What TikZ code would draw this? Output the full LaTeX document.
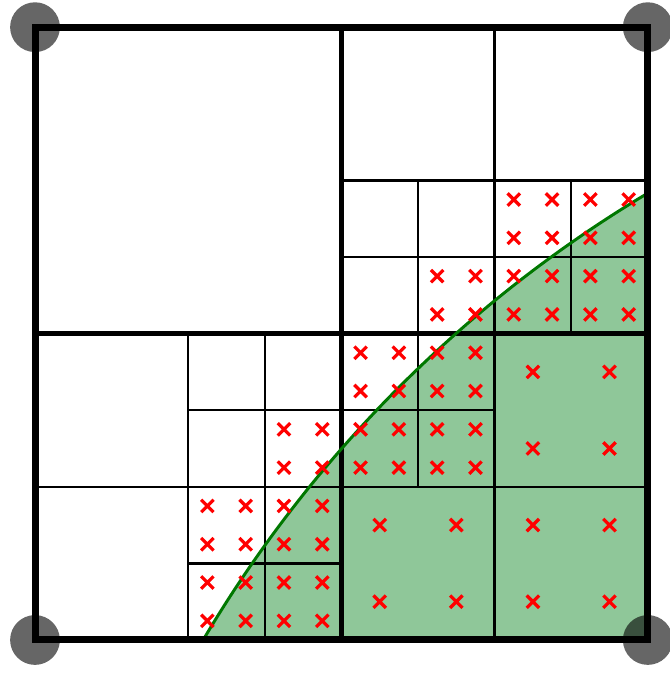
\documentclass[tikz,border=0pt]{standalone}
\usepackage{tikz}
\usetikzlibrary{shapes.misc}
\definecolor{regfill}{RGB}{143,199,153}
\definecolor{bdrygreen}{RGB}{0,120,0}
\tikzset{
  outerbox/.style={line width=2.6pt},
  quadline/.style={line width=1.7pt},
  cellline/.style={line width=0.9pt},
  regarea/.style={fill=regfill},
  bdry/.style={draw=bdrygreen,line width=1.1pt},
  qpt/.style={cross out,draw=red,line width=1.2pt,minimum size=1.2mm,inner sep=0pt},
  cornerdot/.style={circle,fill=black,fill opacity=0.6,minimum size=6.5mm,inner sep=0pt},
}

\begin{document}
\begin{tikzpicture}
  \useasboundingbox (-0.457,-0.431) rectangle (8.277,8.355);
  \begin{scope}
    \clip (0,0) rectangle (8,8);
    \fill[regarea] (16.57,-8.5) ++(152:16.7) arc[start angle=152,end angle=117,radius=16.7]
      -- (9,6.5) -- (9,-1) -- cycle;
  \end{scope}
  \draw[cellline] (2,0) -- (2,4) (3,0) -- (3,4) (6,0) -- (6,8) (5,2) -- (5,6) (7,4) -- (7,6)
    (0,2) -- (8,2) (2,1) -- (4,1) (2,3) -- (6,3) (4,5) -- (8,5) (4,6) -- (8,6);
  \draw[quadline] (4,0) -- (4,8) (0,4) -- (8,4);
  \begin{scope}
    \clip (0,0) rectangle (8,8);
    \draw[bdry] (16.57,-8.5) ++(152:16.7) arc[start angle=152,end angle=117,radius=16.7];
  \end{scope}
  \draw[outerbox] (0,0) rectangle (8,8);
  \foreach \cx/\cy/\s in {5/4/1,6/5/1,7/5/1,6/4/1,7/4/1,4/3/1,5/3/1,4/2/1,5/2/1,
      3/2/1,2/1/1,3/1/1,2/0/1,3/0/1,6/2/2,4/0/2,6/0/2}
    \foreach \i in {1,3}
      \foreach \j in {1,3}
        \node[qpt] (q-\cx-\cy-\i-\j) at ({\cx+\s*\i/4},{\cy+\s*\j/4}) {};
  \node[cornerdot] (sw) at (0,0) {};
  \node[cornerdot] (se) at (8,0) {};
  \node[cornerdot] (nw) at (0,8) {};
  \node[cornerdot] (ne) at (8,8) {};
\end{tikzpicture}
\end{document}
